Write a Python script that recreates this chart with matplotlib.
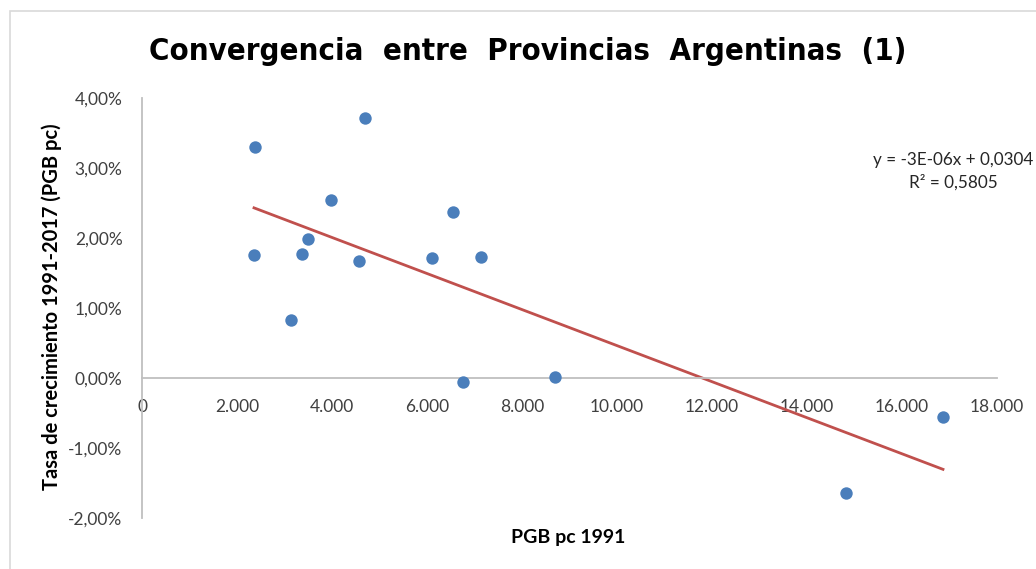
import numpy as np
import matplotlib.pyplot as plt
from matplotlib.patches import Rectangle
from matplotlib.ticker import FuncFormatter

# PGB pc 1991 vs growth rate 1991-2017
pgb_1991 = [2379, 2358, 3137, 3368, 3495, 3979, 4568, 4695, 6105,
            6547, 7137, 6758, 8695, 14821, 16863]
tasa = [0.0330, 0.01757, 0.0083, 0.0177, 0.0199, 0.0254, 0.0167, 0.0371,
        0.0171, 0.0237, 0.0173, -0.0006, 0.0001, -0.0164, -0.0056]

eq_text = "y = -3E-06x + 0,0304"
r2_text = "R² = 0,5805"

plt.rcParams['font.family'] = ['Lato', 'DejaVu Sans']

W, H = 1036, 569
fig = plt.figure(figsize=(W / 100, H / 100), dpi=100)
ax = fig.add_axes([142 / W, 1 - 518 / H, (997 - 142) / W, (518 - 98) / H])

x = np.array(pgb_1991, dtype=float)
y = np.array(tasa)

ax.scatter(x, y, s=80, color='#4a7ebb', zorder=3, linewidths=0)

# linear trendline
m, b = np.polyfit(x, y, 1)
xl = np.array([x.min(), x.max()])
ax.plot(xl, m * xl + b, color='#c0504d', lw=2, zorder=2)

ax.set_xlim(0, 18000)
ax.set_ylim(-0.02, 0.04)
ax.set_xticks(np.arange(0, 18001, 2000))
ax.set_yticks(np.arange(-0.02, 0.0401, 0.01))
ax.xaxis.set_major_formatter(FuncFormatter(lambda v, p: f"{int(v):,}".replace(",", ".")))
ax.yaxis.set_major_formatter(FuncFormatter(lambda v, p: f"{v*100:.2f}%".replace(".", ",")))

for s in ['top', 'right']:
    ax.spines[s].set_visible(False)
ax.spines['bottom'].set_position(('data', 0))
ax.spines['left'].set_color('#bfbfbf')
ax.spines['bottom'].set_color('#bfbfbf')
ax.spines['left'].set_linewidth(1.3)
ax.spines['bottom'].set_linewidth(1.3)
ax.tick_params(axis='both', length=0, labelsize=12.5, labelcolor='#404040')
ax.tick_params(axis='x', pad=15)
ax.tick_params(axis='y', pad=14)

fig.text(52 / W, 1 - 307 / H, "Tasa de crecimiento 1991-2017 (PGB pc)",
         rotation=90, ha='center', va='center', fontsize=14.5, fontweight='bold')
fig.text(568 / W, 1 - 538 / H, "PGB pc 1991", ha='center', va='center',
         fontsize=14, fontweight='bold')

fig.text(528 / W, 1 - 52 / H, "Convergencia  entre  Provincias  Argentinas  (1)",
         ha='center', va='center', fontsize=22.3, fontweight='heavy',
         fontstretch='condensed', family=['DejaVu Sans'])

fig.text(873 / W, 1 - 160 / H, eq_text, ha='left', va='center', fontsize=12.3, color='#262626')
fig.text(953 / W, 1 - 182 / H, r2_text, ha='center', va='center', fontsize=12.3, color='#262626')

# outer chart border (partly visible)
fig.patches.append(Rectangle((10 / W, -0.1), 1.2, 1 - 11 / H + 0.1,
                             transform=fig.transFigure, fill=False,
                             edgecolor='#d9d9d9', lw=1.2))

fig.savefig("out.png", dpi=100)
